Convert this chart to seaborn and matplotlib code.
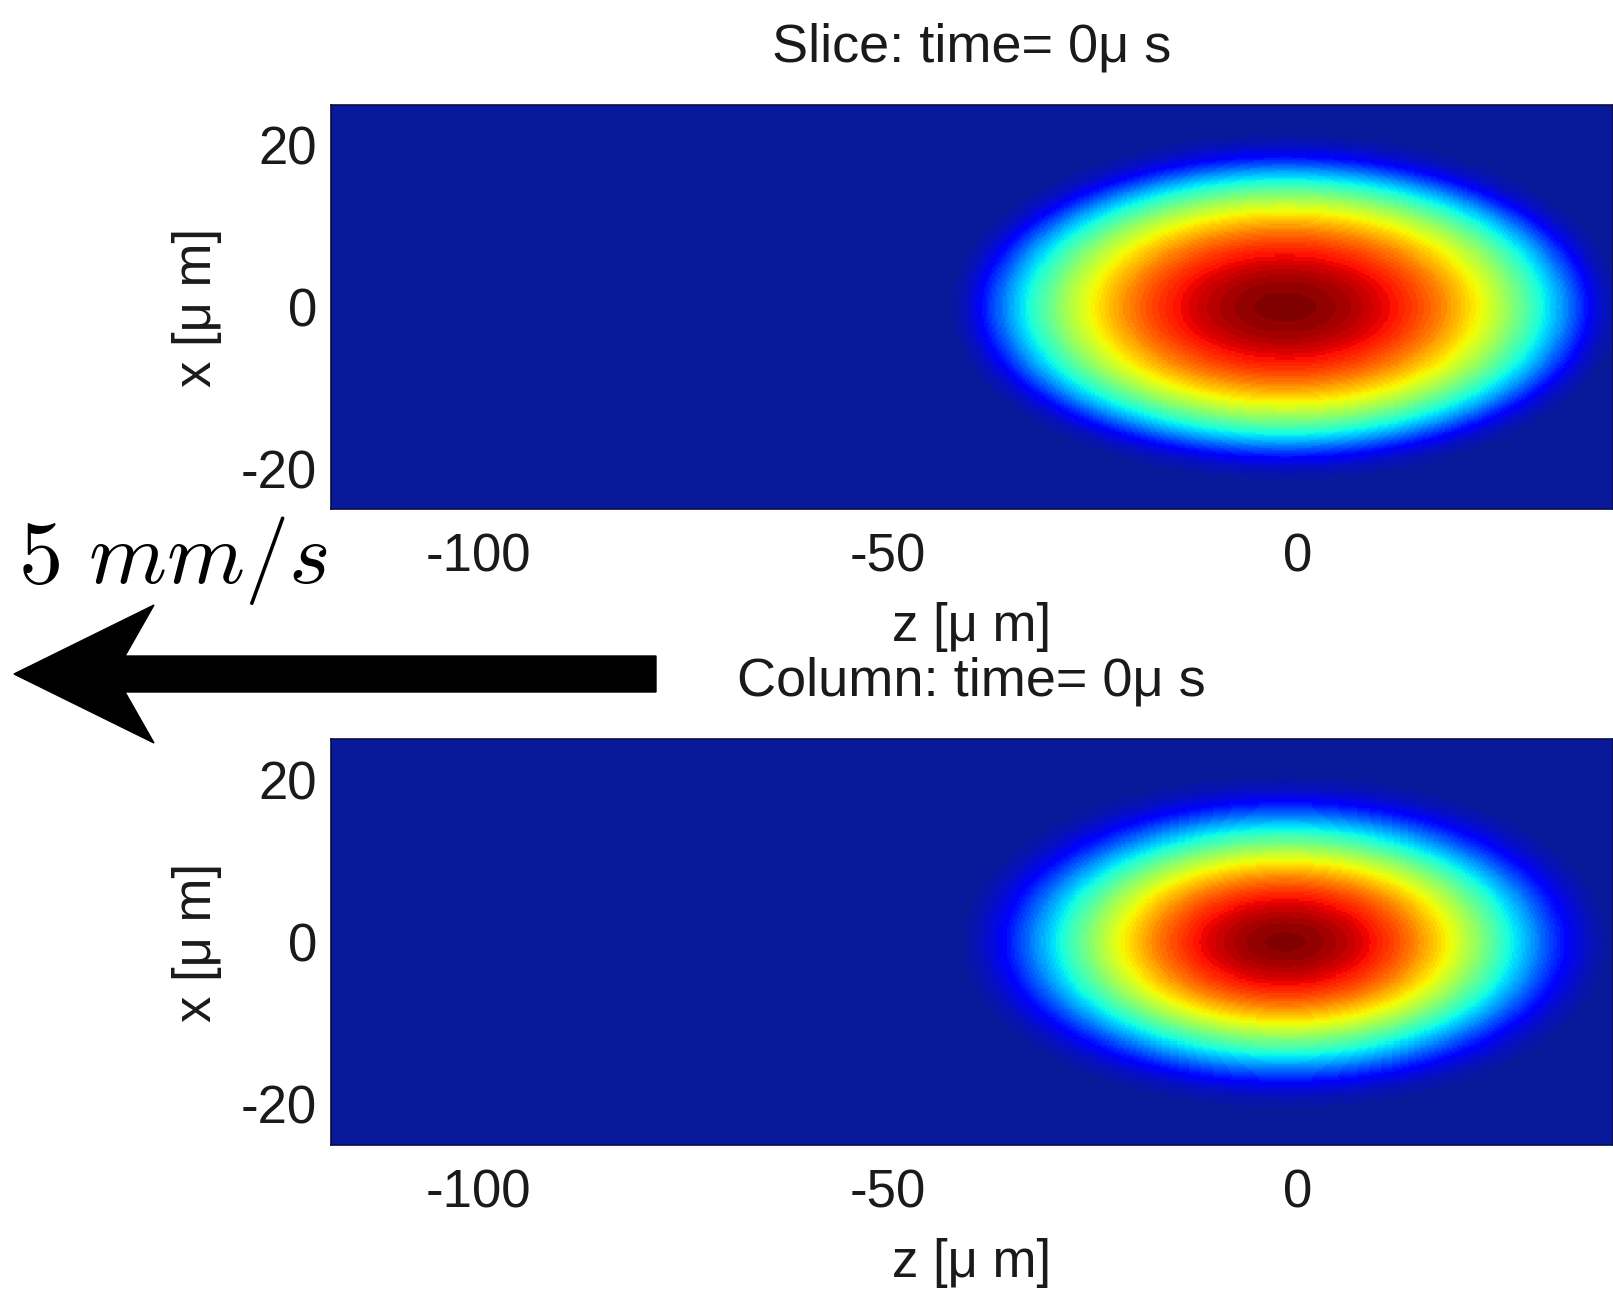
"""Slice and column density of the cloud at t = 0, with the 5 mm/s push arrow."""
import matplotlib
matplotlib.use("Agg")
import matplotlib.pyplot as plt
from matplotlib.colors import ListedColormap
from matplotlib.patches import Polygon
import numpy as np
import pandas as pd
import seaborn as sns

W, H, DPI = 1613, 1290, 100

# data
panel_titles = ["Slice: time= 0\u03bc s", "Column: time= 0\u03bc s"]
profile_power = [1.0, 1.5]        # slice ~ (1 - r^2), column ~ (1 - r^2)^1.5
z_ticks = [-100, -50, 0]
x_ticks = [20, 0, -20]
z_limits = [-118.0, 38.5]         # um
x_limits = [-25.0, 25.0]          # um
cloud_center = [-1.5, 0.0]        # z, x in um
cloud_radius = [40.0, 20.0]       # z, x in um
peak_density = 1.0
grid_step = 0.25
blur_um = 1.5                     # the original render is visibly smoothed
velocity_label = r"$5\ mm/s$"

sns.set_theme(style="white")
plt.rcParams["font.family"] = ["Liberation Sans", "DejaVu Sans"]
plt.rcParams["mathtext.fontset"] = "cm"

# MATLAB-like 64 step jet, low end blended into the navy background
jet = plt.get_cmap("jet")(np.linspace(0, 1, 64))
bg = np.array([0.03, 0.10, 0.60, 1.0])
for i in range(8):
    t = i / 8
    jet[i] = (1 - t) * bg + t * jet[8]
cmap = ListedColormap(jet)

z = np.arange(z_limits[0] + grid_step / 2, z_limits[1], grid_step)
x = np.arange(x_limits[1] - grid_step / 2, x_limits[0], -grid_step)
Z, X = np.meshgrid(z, x)
r2 = ((Z - cloud_center[0]) / cloud_radius[0]) ** 2 + ((X - cloud_center[1]) / cloud_radius[1]) ** 2
base = np.clip(1 - r2, 0, None)

sig = blur_um / grid_step
k = np.exp(-0.5 * (np.arange(-3 * int(sig), 3 * int(sig) + 1) / sig) ** 2)
k /= k.sum()


def smooth(a):
    a = np.apply_along_axis(lambda r: np.convolve(r, k, mode="same"), 1, a)
    return np.apply_along_axis(lambda c: np.convolve(c, k, mode="same"), 0, a)


fig = plt.figure(figsize=(W / DPI, H / DPI), dpi=DPI)

px_per_um = 8.19
left = 331
width = (z_limits[1] - z_limits[0]) * px_per_um
boxes = [(105, 509), (739, 1145)]   # top / bottom in pixels

for title, power, (top, bottom) in zip(panel_titles, profile_power, boxes):
    ax = fig.add_axes([left / W, 1 - bottom / H, width / W, (bottom - top) / H])
    df = pd.DataFrame(smooth(peak_density * base ** power), index=x, columns=z)
    sns.heatmap(df, ax=ax, cmap=cmap, vmin=0, vmax=1, cbar=False,
                xticklabels=False, yticklabels=False, rasterized=True)
    ax.set_xticks([(v - z_limits[0]) / grid_step for v in z_ticks])
    ax.set_xticklabels([str(v) for v in z_ticks], rotation=0)
    ax.set_yticks([(x_limits[1] - v) / grid_step for v in x_ticks])
    ax.set_yticklabels([str(v) for v in x_ticks], rotation=0)
    ax.tick_params(length=0, labelsize=38, colors="#1a1a1a")
    ax.tick_params(axis="x", pad=17)
    ax.tick_params(axis="y", pad=10)
    ax.set_xlabel("z [\u03bc m]", fontsize=38, labelpad=14, color="#1a1a1a")
    ax.set_ylabel("x [\u03bc m]", fontsize=38, labelpad=14, color="#1a1a1a")
    ax.set_title(title, fontsize=39, pad=31, color="#1a1a1a")
    for s in ax.spines.values():
        s.set_visible(True)
        s.set_color("#0a0f40")
        s.set_linewidth(1.2)

# overlay in pixel units for the velocity arrow and its label
over = fig.add_axes([0, 0, 1, 1], zorder=5)
over.set_xlim(0, W)
over.set_ylim(H, 0)
over.axis("off")
over.patch.set_alpha(0)

tip, tail, y0 = 14, 656, 674
shaft, head_len, head_half, notch = 18, 140, 69, 29
arrow = [(tip, y0), (tip + head_len, y0 - head_half), (tip + head_len - notch, y0 - shaft),
         (tail, y0 - shaft), (tail, y0 + shaft), (tip + head_len - notch, y0 + shaft),
         (tip + head_len, y0 + head_half)]
over.add_patch(Polygon(arrow, closed=True, color="black"))
over.text(18, 583, velocity_label, fontsize=64, ha="left", va="baseline", color="black")

fig.savefig("out.png", dpi=DPI)
